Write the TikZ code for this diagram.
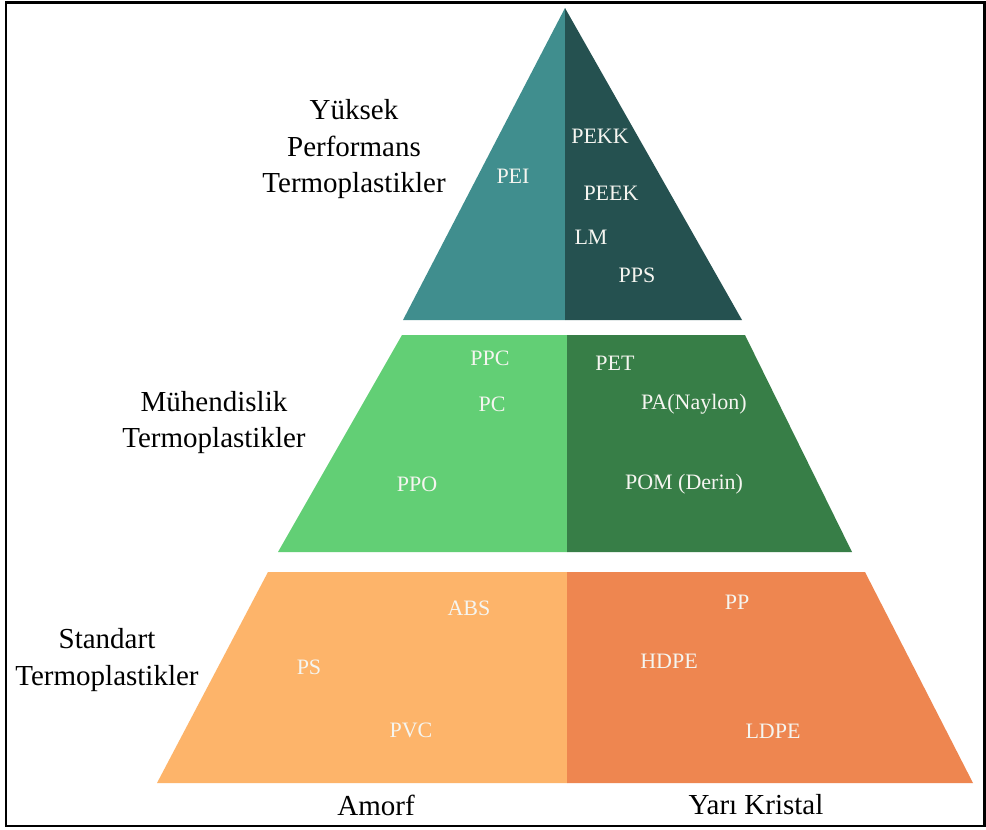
\documentclass[tikz,border=0pt]{standalone}
\usepackage{fontspec}
\setmainfont{Liberation Serif}
\definecolor{tealL}{RGB}{64,142,142}
\definecolor{tealD}{RGB}{37,81,80}
\definecolor{greenL}{RGB}{98,207,117}
\definecolor{greenD}{RGB}{55,126,71}
\definecolor{orangeL}{RGB}{253,180,106}
\definecolor{orangeD}{RGB}{238,134,80}
\definecolor{offwhite}{RGB}{245,245,240}
\begin{document}
\begin{tikzpicture}[x=1pt,y=-1pt,
  lab/.style={text=black,font=\fontsize{29}{36.5}\selectfont,align=center,inner sep=0pt},
  wl/.style={text=offwhite,font=\fontsize{22}{26}\selectfont,inner sep=0pt}]
\useasboundingbox (0,0) rectangle (986,830);
\fill[white] (0,0) rectangle (986,830);
\draw[line width=2.5pt] (6,2.5) rectangle (984.5,826);
% top tier
\fill[tealL] (565,8) -- (403,320) -- (565,320) -- cycle;
\fill[tealD] (565,8) -- (742,320) -- (565,320) -- cycle;
% middle tier
\fill[greenL] (402,335) -- (567,335) -- (567,552) -- (278,552) -- cycle;
\fill[greenD] (567,335) -- (745,335) -- (852,552) -- (567,552) -- cycle;
% bottom tier
\fill[orangeL] (268,572) -- (567,572) -- (567,783) -- (157,783) -- cycle;
\fill[orangeD] (567,572) -- (865,572) -- (973,783) -- (567,783) -- cycle;
% side labels
\node[lab] (yuksek) at (354,149.5) {Yüksek\\Performans\\Termoplastikler};
\node[lab] (muh) at (214,422.5) {Mühendislik\\Termoplastikler};
\node[lab] (std) at (107,660) {Standart\\Termoplastikler};
\node[lab] (amorf) at (376,805) {Amorf};
\node[lab] (yari) at (756,805) {Yarı Kristal};
% top labels
\node[wl] (pei) at (513,176) {PEI};
\node[wl] (pekk) at (600,136) {PEKK};
\node[wl] (peek) at (611,193) {PEEK};
\node[wl] (lm) at (591,237) {LM};
\node[wl] (pps) at (637,275) {PPS};
% middle labels
\node[wl] (ppc) at (490,358) {PPC};
\node[wl] (pc) at (492,404) {PC};
\node[wl] (ppo) at (417,484) {PPO};
\node[wl] (pet) at (615,363) {PET};
\node[wl] (pa) at (694,404) {PA(Naylon)};
\node[wl] (pom) at (684,484) {POM (Derin)};
% bottom labels
\node[wl] (abs) at (469,608) {ABS};
\node[wl] (ps) at (309,667) {PS};
\node[wl] (pvc) at (411,730) {PVC};
\node[wl] (pp) at (737,602) {PP};
\node[wl] (hdpe) at (669,661) {HDPE};
\node[wl] (ldpe) at (773,731) {LDPE};
\end{tikzpicture}
\end{document}
